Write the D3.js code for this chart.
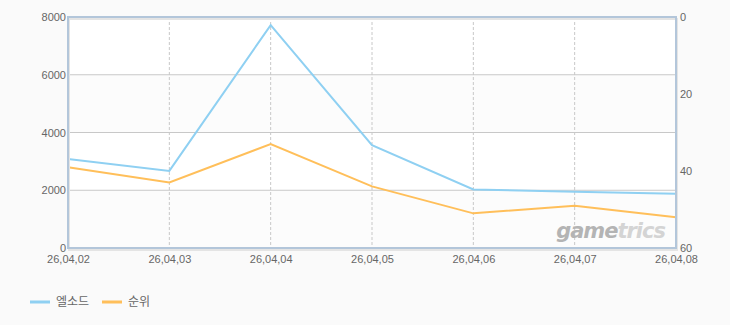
<!DOCTYPE html>
<html>
<head>
<meta charset="utf-8">
<script src="https://cdn.jsdelivr.net/npm/d3@7"></script>
<style>
    body { margin: 0; background: #fafafa; font-family: "Liberation Sans", Arial, sans-serif; }
    #chart { width: 730px; height: 325px; }
    .tick text { fill: #666; font-size: 11px; }
</style>
</head>
<body>
<div id="chart"></div>
<script>
// chart data
var dates = ["26,04,02", "26,04,03", "26,04,04", "26,04,05", "26,04,06", "26,04,07", "26,04,08"];
var players = [3080, 2670, 7720, 3560, 2025, 1945, 1880];
var ranks = [39, 43, 33, 44, 51, 49, 52];
var leftTicks = [0, 2000, 4000, 6000, 8000];
var rightTicks = [0, 20, 40, 60];
var seriesNames = ["엘소드", "순위"];
var colours = ["#8fd0f2", "#ffbf5a"];

var width = 730, height = 325;
var margin = { top: 17, bottom: 77, left: 68, right: 54 };

var svg = d3.select('#chart')
    .append('svg')
    .attr('width', width)
    .attr('height', height);

var w = width - margin.left - margin.right;
var h = height - margin.top - margin.bottom;

var g = svg.append('g')
    .attr('transform', 'translate(' + margin.left + ',' + margin.top + ')');

var x_scale = d3.scalePoint()
    .domain(dates)
    .range([0, w]);

var y_scale = d3.scaleLinear()
    .domain([0, 8000])
    .range([h, 0]);

var y_scale2 = d3.scaleLinear()
    .domain([0, 60])
    .range([0, h]);

// background bands
g.append('rect')
    .attr('width', w).attr('height', h)
    .attr('fill', '#fcfcfc');

g.selectAll('.band')
    .data([[8000, 6000], [4000, 2000]])
    .enter()
    .append('rect')
    .attr('x', 0)
    .attr('y', function(d) { return y_scale(d[0]); })
    .attr('width', w)
    .attr('height', function(d) { return y_scale(d[1]) - y_scale(d[0]); })
    .attr('fill', '#ffffff');

// grid
g.selectAll('.hgrid')
    .data(leftTicks.slice(1, -1))
    .enter()
    .append('line')
    .attr('x1', 0).attr('x2', w)
    .attr('y1', function(d) { return y_scale(d); })
    .attr('y2', function(d) { return y_scale(d); })
    .attr('stroke', '#c8c8c8');

g.selectAll('.vgrid')
    .data(dates.slice(1, -1))
    .enter()
    .append('line')
    .attr('x1', function(d) { return x_scale(d); })
    .attr('x2', function(d) { return x_scale(d); })
    .attr('y1', 0).attr('y2', h)
    .attr('stroke', '#c8c8c8')
    .attr('stroke-dasharray', '3,2');

// watermark
var wm = g.append('text')
    .attr('x', w - 11)
    .attr('y', h - 10)
    .attr('text-anchor', 'end')
    .style('font-family', 'Verdana, "DejaVu Sans", sans-serif')
    .style('font-size', '21px')
    .style('font-weight', 'bold')
    .style('font-style', 'italic')
    .style('letter-spacing', '-1px');
wm.append('tspan').attr('fill', '#b4b4b4').text('game');
wm.append('tspan').attr('fill', '#d4d4d4').text('trics');

// lines
var line1 = d3.line()
    .x(function(d, i) { return x_scale(dates[i]); })
    .y(function(d) { return y_scale(d); });

var line2 = d3.line()
    .x(function(d, i) { return x_scale(dates[i]); })
    .y(function(d) { return y_scale2(d); });

g.append('path')
    .datum(players)
    .attr('d', line1)
    .attr('fill', 'none')
    .attr('stroke', colours[0])
    .attr('stroke-width', 2);

g.append('path')
    .datum(ranks)
    .attr('d', line2)
    .attr('fill', 'none')
    .attr('stroke', colours[1])
    .attr('stroke-width', 2);

// frame
g.append('rect')
    .attr('x', 1).attr('y', 2)
    .attr('width', w).attr('height', h)
    .attr('fill', 'none')
    .attr('stroke', '#e4e4e4')
    .attr('stroke-width', 2);

g.append('rect')
    .attr('width', w).attr('height', h)
    .attr('fill', 'none')
    .attr('stroke', '#b3c6da')
    .attr('stroke-width', 2);

// axes
var y_axis = d3.axisLeft(y_scale).tickValues(leftTicks).tickFormat(d3.format('d')).tickSize(0).tickPadding(2);
var y_axis2 = d3.axisRight(y_scale2).tickValues(rightTicks).tickFormat(d3.format('d')).tickSize(0).tickPadding(4);
var x_axis = d3.axisBottom(x_scale).tickSize(0).tickPadding(7);

g.append('g').call(y_axis).call(function(s) { s.select('.domain').remove(); });
g.append('g').attr('transform', 'translate(' + w + ',0)')
    .call(y_axis2).call(function(s) { s.select('.domain').remove(); });
g.append('g').attr('transform', 'translate(0,' + h + ')')
    .call(x_axis).call(function(s) { s.select('.domain').remove(); });

g.selectAll('.tick text').style('font-family', '"Liberation Sans", Arial, sans-serif');

// legend
var legend = svg.append('g')
    .attr('transform', 'translate(30,302)');

var items = legend.selectAll('.item')
    .data(seriesNames)
    .enter()
    .append('g')
    .attr('transform', function(d, i) { return 'translate(' + (i * 72) + ',0)'; });

items.append('line')
    .attr('x1', 0).attr('x2', 20)
    .attr('y1', 0).attr('y2', 0)
    .attr('stroke', function(d, i) { return colours[i]; })
    .attr('stroke-width', 3);

items.append('text')
    .attr('x', 26)
    .attr('y', 4)
    .attr('fill', '#666')
    .style('font-size', '12px')
    .style('font-family', '"Noto Sans CJK KR", sans-serif')
    .text(function(d) { return d; });
</script>
</body>
</html>
